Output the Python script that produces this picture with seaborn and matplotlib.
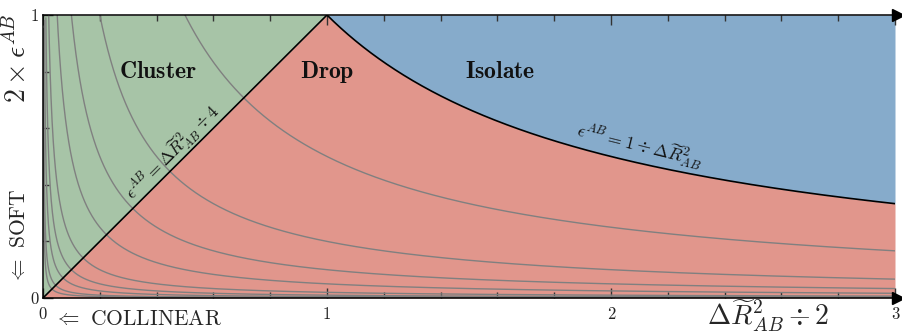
import numpy as np
import pandas as pd
import matplotlib
matplotlib.use("Agg")
import matplotlib.pyplot as plt
import seaborn as sns

# ---- data ----
contour_levels = [0.5, 0.2, 0.1, 0.05, 0.02, 0.01, 0.005, 0.002, 0.001]
x_ticks = [0, 1, 2, 3]
x_tick_labels = ["0", "1", "2", "3"]
y_ticks = [0, 1]
y_tick_labels = ["0", "1"]
regions = ["Cluster", "Drop", "Isolate"]
region_x = [0.405, 1.0, 1.61]
region_y = [0.80, 0.80, 0.80]
c_green = "#a7c4a7"
c_red = "#e1968c"
c_blue = "#86abcb"

sns.set_style("ticks")
plt.rcParams["font.family"] = "serif"
plt.rcParams["font.serif"] = ["cmr10", "DejaVu Serif"]
plt.rcParams["mathtext.fontset"] = "cm"
plt.rcParams["axes.formatter.use_mathtext"] = True

W, H = 903, 334
fig = plt.figure(figsize=(W / 100, H / 100), dpi=100)
ax = fig.add_axes([43 / W, 1 - 298 / H, 852 / W, 283 / H])

xs = np.linspace(1e-4, 3, 3001)
xl = xs[xs <= 1]
xr = np.linspace(1, 3, 1000)

ax.fill_between(xl, xl, 1, color=c_green, lw=0, zorder=0)
ax.fill_between(xs, 0, np.minimum(xs, 1 / xs), color=c_red, lw=0, zorder=0)
ax.fill_between(xr, 1 / xr, 1, color=c_blue, lw=0, zorder=0)

rows = []
for c in contour_levels:
    for x in xs:
        rows.append({"x": x, "y": c / x, "c": str(c)})
df = pd.DataFrame(rows)
df = df[df["y"] <= 1.05]
sns.lineplot(data=df, x="x", y="y", units="c", estimator=None, color="#808080",
             lw=1.0, ax=ax, legend=False, sort=False, zorder=1)

sns.lineplot(x=xl, y=xl, color="k", lw=1.2, ax=ax, zorder=2)
sns.lineplot(x=xr, y=1 / xr, color="k", lw=1.2, ax=ax, zorder=2)

ax.set_xlim(0, 3)
ax.set_ylim(0, 1)
ax.set_xlabel("")
ax.set_ylabel("")
ax.set_xticks(x_ticks)
ax.set_xticklabels(x_tick_labels, fontsize=12)
ax.set_xticks(np.arange(0, 3.01, 0.2), minor=True)
ax.set_yticks(y_ticks)
ax.set_yticklabels(y_tick_labels, fontsize=12)
ax.set_yticks(np.arange(0, 1.01, 0.2), minor=True)
ax.tick_params(which="both", direction="in", top=True, right=False, width=1, colors="#333333", labelcolor="#222222")
ax.tick_params(which="major", length=7)
ax.tick_params(axis="x", which="major", pad=6)
ax.tick_params(axis="y", which="major", pad=3)
ax.tick_params(which="minor", length=4)
ax.spines["right"].set_visible(False)
for s in ["left", "top", "bottom"]:
    ax.spines[s].set_color("k")
    ax.spines[s].set_linewidth(1.1)

for name, rx, ry in zip(regions, region_x, region_y):
    ax.text(rx, ry, r"$\mathbf{%s}$" % name, fontsize=17, ha="center", va="center", color="#111111")

ax.text(0.455, 0.515, r"$\epsilon^{AB} = \Delta\widetilde{R}^2_{AB} \div 4$", rotation=45,
        fontsize=12.5, ha="center", va="center", rotation_mode="anchor", color="#111111")
ax.text(2.10, 0.54, r"$\epsilon^{AB} = 1 \div \Delta\widetilde{R}^2_{AB}$", rotation=-14,
        fontsize=13, ha="center", va="center", rotation_mode="anchor", color="#111111")

# arrowheads on the horizontal spines
for yy in (0, 1):
    ax.plot([1.003], [yy], marker=">", color="k", ms=8, transform=ax.transAxes, clip_on=False, zorder=5)

fig.text(18 / W, 1 - 58 / H, r"$2\times\epsilon^{AB}$", rotation=90, fontsize=20, ha="center", va="center")
fig.text(19 / W, 1 - 236 / H, r"$\Leftarrow$ SOFT", rotation=90, fontsize=15.5, ha="center", va="center")
fig.text(138 / W, 1 - 319 / H, r"$\Leftarrow$ COLLINEAR", fontsize=15.5, ha="center", va="center")
fig.text(768 / W, 1 - 316 / H, r"$\Delta\widetilde{R}^2_{AB} \div 2$", fontsize=20, ha="center", va="center")

fig.savefig("out.png", dpi=100)
